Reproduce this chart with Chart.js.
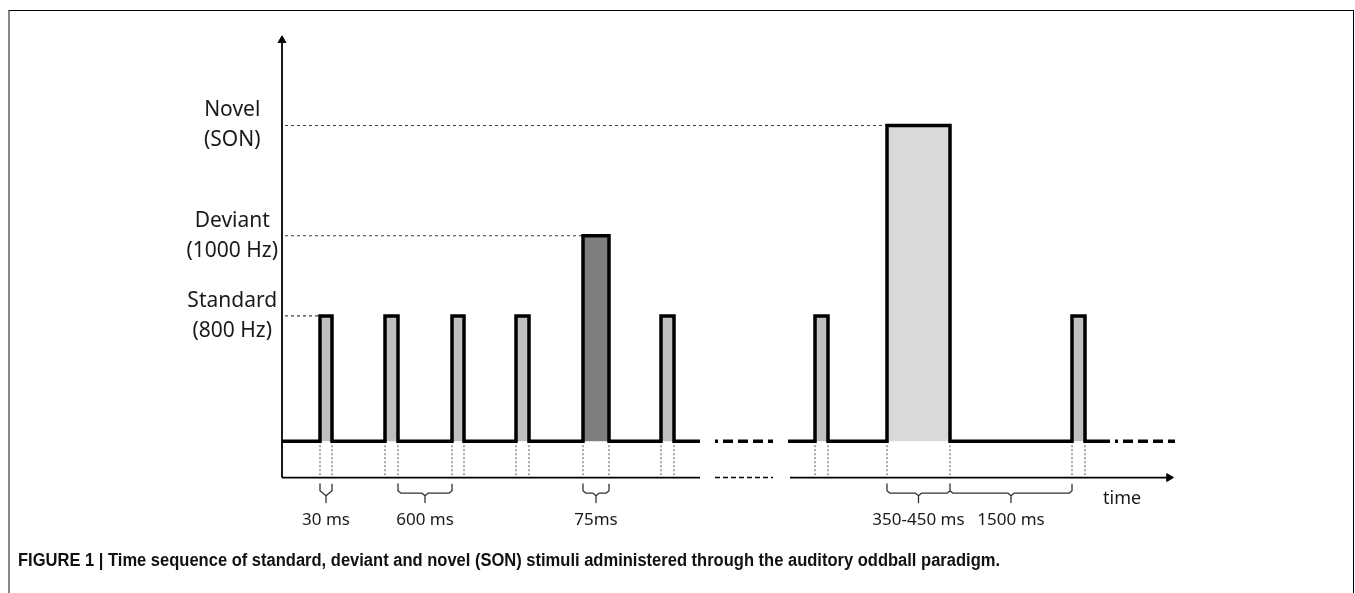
<!DOCTYPE html>
<html>
<head>
<meta charset="utf-8">
<script src="https://cdn.jsdelivr.net/npm/chart.js@4.4.1/dist/chart.umd.min.js"></script>
<style>
    html, body { margin: 0; padding: 0; background: #fff; width: 1355px; height: 593px; overflow: hidden; }
    #frame { position: absolute; left: 8px; top: 10px; width: 1343px; height: 700px; border: 1px solid #000; border-left: 2px solid #888; }
    #chart { position: absolute; left: 0; top: 0; }
    #caption { position: absolute; left: 18px; top: 550px; font: bold 18px "Liberation Sans", Arial, sans-serif; white-space: nowrap; transform-origin: 0 0; color: #111; }
</style>
</head>
<body>
<div id="frame"></div>
<canvas id="chart" width="1355" height="593"></canvas>
<div id="caption">FIGURE 1 | Time sequence of standard, deviant and novel (SON) stimuli administered through the auditory oddball paradigm.</div>
<script>
// stimulus levels (baseline = 0, standard tone = 1)
const levelNames = [['Standard', '(800 Hz)'], ['Deviant', '(1000 Hz)'], ['Novel', '(SON)']];
const levelHeights = [1, 1.64, 2.52];
const levelFills = ['#bfbfbf', '#7f7f7f', '#d9d9d9'];

// stimuli on the schematic time axis (arbitrary units, not to scale)
const stimOnsets  = [38, 103, 170, 234, 301, 379, 533, 605, 790];
const stimOffsets = [50, 116, 182, 247, 327, 392, 546, 668, 803];
const stimTypes   = [0, 0, 0, 0, 1, 0, 0, 2, 0];

// solid stretches of the trace / time axis and the dashed "..." breaks
const baselineRuns = [[0, 418], [506, 828]];
const baselineBreaks = [[433, 491], [833, 893]];
const axisRuns = [[0, 418], [508, 887]];
const axisBreaks = [[433, 491]];

// duration braces below the time axis
const braceFrom = [38, 116, 301, 605, 668];
const braceTo   = [50, 170, 327, 668, 790];
const braceText = ['30 ms', '600 ms', '75ms', '350-450 ms', '1500 ms'];

const axisLevel = -0.29;
const yTop = 3.2;

function lineSet(points, style) {
    return Object.assign({
        data: points,
        showLine: true,
        pointRadius: 0,
        borderColor: '#000',
        borderWidth: 2,
        borderJoinStyle: 'miter',
        borderCapStyle: 'butt',
        clip: false,
        fill: false,
        order: 1
    }, style);
}

const datasets = [];

// signal trace with the pulses
baselineRuns.forEach(function (run) {
    const pts = [{ x: run[0], y: 0 }];
    stimOnsets.forEach(function (on, i) {
        if (on < run[0] || on > run[1]) return;
        const h = levelHeights[stimTypes[i]];
        pts.push({ x: on, y: 0 }, { x: on, y: h }, { x: stimOffsets[i], y: h }, { x: stimOffsets[i], y: 0 });
    });
    pts.push({ x: run[1], y: 0 });
    datasets.push(lineSet(pts, { borderWidth: 3.5 }));
});

// pulse fills (drawn under the outline)
stimOnsets.forEach(function (on, i) {
    const h = levelHeights[stimTypes[i]];
    datasets.push(lineSet(
        [{ x: on, y: 0 }, { x: on, y: h }, { x: stimOffsets[i], y: h }, { x: stimOffsets[i], y: 0 }],
        { fill: 'origin', backgroundColor: levelFills[stimTypes[i]], borderColor: '#9a9a9a', borderWidth: 1, order: 3 }
    ));
});

baselineBreaks.forEach(function (b) {
    datasets.push(lineSet([{ x: b[0], y: 0 }, { x: b[1], y: 0 }],
        { borderWidth: 3.5, borderDash: [3, 5, 10, 5, 10, 5, 10, 5, 10, 5] }));
});

// time axis
axisRuns.forEach(function (r) {
    datasets.push(lineSet([{ x: r[0], y: axisLevel }, { x: r[1], y: axisLevel }], { borderWidth: 1.8 }));
});
axisBreaks.forEach(function (b) {
    datasets.push(lineSet([{ x: b[0], y: axisLevel }, { x: b[1], y: axisLevel }], { borderWidth: 1.5, borderDash: [5, 3] }));
});

// vertical axis
datasets.push(lineSet([{ x: 0, y: axisLevel }, { x: 0, y: yTop }], { borderWidth: 1.8 }));

// arrow heads
datasets.push({ data: [{ x: 0, y: yTop }], showLine: false, pointStyle: 'triangle', pointRadius: 4.5, pointRotation: 0, pointBackgroundColor: '#000', pointBorderColor: '#000', pointBorderWidth: 1, clip: false, order: 0 });
datasets.push({ data: [{ x: axisRuns[axisRuns.length - 1][1], y: axisLevel }], showLine: false, pointStyle: 'triangle', pointRadius: 4.5, pointRotation: 90, pointBackgroundColor: '#000', pointBorderColor: '#000', pointBorderWidth: 1, clip: false, order: 0 });

// dashed reference lines from the axis to each first stimulus of a kind
levelHeights.forEach(function (h, k) {
    const first = stimTypes.indexOf(k);
    datasets.push(lineSet([{ x: 3, y: h }, { x: stimOnsets[first], y: h }],
        { borderWidth: 1.2, borderColor: '#444', borderDash: [3, 3] }));
});

// dotted edges from the trace down to the time axis
const edgePts = [];
stimOnsets.forEach(function (on, i) {
    [on, stimOffsets[i]].forEach(function (x) {
        edgePts.push({ x: x, y: 0 }, { x: x, y: axisLevel }, { x: x, y: null });
    });
});
datasets.push(lineSet(edgePts, { borderWidth: 1, borderColor: '#555', borderDash: [2, 2], spanGaps: false }));

// braces
const braceTop = -0.34, braceMid = -0.415, braceTip = -0.49;
const bracePts = [];
braceFrom.forEach(function (a, i) {
    const b = braceTo[i];
    const m = (a + b) / 2;
    const c = Math.min(3, (b - a) / 4);
    bracePts.push(
        { x: a, y: braceTop }, { x: a, y: braceMid + 0.02 }, { x: a + c, y: braceMid },
        { x: m - c, y: braceMid }, { x: m, y: braceMid - 0.02 }, { x: m, y: braceTip },
        { x: m, y: braceMid - 0.02 }, { x: m + c, y: braceMid },
        { x: b - c, y: braceMid }, { x: b, y: braceMid + 0.02 }, { x: b, y: braceTop },
        { x: b, y: null }
    );
});
datasets.push(lineSet(bracePts, { borderWidth: 1.3, borderColor: '#333', borderJoinStyle: 'round', spanGaps: false }));

const annotationText = {
    id: 'annotationText',
    afterDraw(chart) {
        const { ctx, scales: { x, y } } = chart;
        ctx.save();
        ctx.fillStyle = '#1a1a1a';
        ctx.font = '17px "Noto Sans"';
        ctx.textAlign = 'center';
        ctx.textBaseline = 'middle';
        braceText.forEach(function (t, i) {
            const mid = (braceFrom[i] + braceTo[i]) / 2;
            ctx.fillText(t, x.getPixelForValue(mid), y.getPixelForValue(-0.63));
        });
        ctx.font = '18px "Noto Sans"';
        ctx.textAlign = 'left';
        ctx.fillText('time', x.getPixelForValue(821), y.getPixelForValue(-0.46));
        ctx.restore();
    }
};

Chart.defaults.font.family = '"Noto Sans", sans-serif';

new Chart(document.getElementById('chart'), {
    type: 'line',
    data: { datasets: datasets },
    options: {
        responsive: false,
        animation: false,
        events: [],
        layout: { padding: { left: 0, right: 173, top: 31.5, bottom: 114.2 } },
        plugins: {
            legend: { display: false },
            tooltip: { enabled: false },
            title: { display: false }
        },
        scales: {
            x: { type: 'linear', display: false, min: 0, max: 900 },
            y: {
                type: 'linear',
                min: -0.3,
                max: 3.25,
                position: 'left',
                grid: { display: false, drawTicks: false },
                border: { display: false },
                afterFit: function (scale) { scale.width = 282; },
                afterBuildTicks: function (scale) {
                    scale.ticks = levelHeights.map(function (v) { return { value: v }; });
                },
                ticks: {
                    autoSkip: false,
                    crossAlign: 'center',
                    padding: 4,
                    color: '#1a1a1a',
                    font: { size: 21, lineHeight: 1.43 },
                    callback: function (value, index) { return levelNames[index]; }
                }
            }
        }
    },
    plugins: [annotationText]
});

// squeeze the caption to the printed (condensed) width
const caption = document.getElementById('caption');
const w = caption.getBoundingClientRect().width;
caption.style.transform = 'scaleX(' + (982 / w) + ')';
</script>
</body>
</html>
